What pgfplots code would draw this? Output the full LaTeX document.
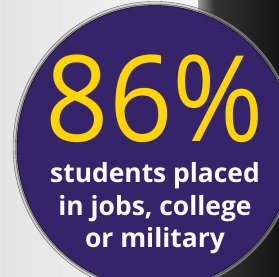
\documentclass[border=0pt]{standalone}
\usepackage{pgfplots}
\pgfplotsset{compat=1.18}
\usepackage{fontspec}
\setmainfont{Open Sans}
\usetikzlibrary{shadings}
\definecolor{bgl}{HTML}{E4E4E4}
\definecolor{bgw}{HTML}{F6F6F6}
\definecolor{purp}{HTML}{36246B}
\definecolor{gold}{HTML}{FFD500}
\definecolor{dgA}{HTML}{9A9A9A}
\definecolor{dgB}{HTML}{333333}
\definecolor{dgC}{HTML}{141414}
\begin{document}
\begin{tikzpicture}[x=1bp,y=1bp]
\begin{scope}
\clip (0,0) rectangle (279,277);
\shade[left color=bgl, right color=bgw] (0,0) rectangle (200,277);
\shade[left color=dgA, right color=dgB] (198,277) rectangle (214,0);
\shade[left color=dgB, right color=dgC] (214,277) rectangle (279,0);
\begin{axis}[at={(0,0)}, anchor=south west, width=279bp, height=277bp, scale only axis,
  xmin=0, xmax=279, ymin=0, ymax=277, y dir=reverse, hide axis, clip=false]
% halo and disc: one data point (the disc's centre) drawn as a mark
\addplot[only marks, mark=*, mark size=142bp, mark options={draw=none, fill=gray!55!white, opacity=0.55, yscale=1.025}] coordinates {(155,147)};
\addplot[only marks, mark=*, mark size=139.5bp, mark options={draw=none, fill=gray!80!black, opacity=0.5, yscale=1.025}] coordinates {(155,147)};
\addplot[only marks, mark=*, mark size=138bp, mark options={draw=none, fill=purp, yscale=1.025}] coordinates {(155,147)};
\end{axis}
\node[text=gold, anchor=base, font=\fontsize{120}{120}\selectfont, inner sep=0pt, text depth=0pt] at (155,277-141) {\scalebox{0.93}[1]{86\%}};
\node[text=white, anchor=base, font=\bfseries\fontsize{26.5}{26.5}\selectfont, inner sep=0pt] at (155,277-182) {students placed};
\node[text=white, anchor=base, font=\bfseries\fontsize{26.5}{26.5}\selectfont, inner sep=0pt] at (155,277-215) {in jobs, college};
\node[text=white, anchor=base, font=\bfseries\fontsize{26.5}{26.5}\selectfont, inner sep=0pt] at (155,277-247) {or military};
\end{scope}
\pgfresetboundingbox
\useasboundingbox (0,0) rectangle (279,277);
\end{tikzpicture}
\end{document}
